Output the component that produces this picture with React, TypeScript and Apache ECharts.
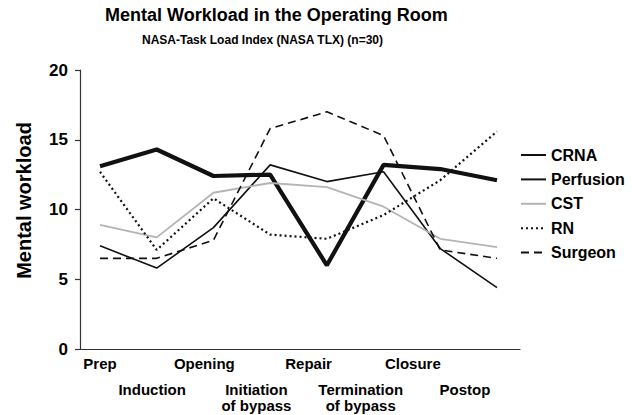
import React, { useEffect, useRef } from "react";
import * as echarts from "echarts";

const categories = ["Prep", "Induction", "Opening", "Initiation\nof bypass", "Repair", "Termination\nof bypass", "Closure", "Postop"];
const crna = [13.1, 14.3, 12.4, 12.5, 6.0, 13.2, 12.9, 12.1];
const perfusion = [7.4, 5.8, 8.7, 13.2, 12.0, 12.7, 7.2, 4.4];
const cst = [8.9, 8.0, 11.2, 11.9, 11.6, 10.2, 7.9, 7.3];
const rn = [12.7, 7.1, 10.8, 8.2, 7.9, 9.6, 12.1, 15.6];
const surgeon = [6.5, 6.5, 7.8, 15.8, 17.0, 15.3, 7.1, 6.5];

const FONT = "'Liberation Sans', Arial, sans-serif";

export default function App() {
  const ref = useRef<HTMLDivElement>(null);
  useEffect(() => {
    const chart = echarts.init(ref.current!, null, { renderer: "svg" });
    const top = 70;
    const height = 279;
    const hiddenAxis = {
      axisLine: { show: false },
      axisTick: { show: false },
      axisLabel: { show: false },
      splitLine: { show: false },
    };
    const mk = (name: string, data: number[], lineStyle: any) => ({
      name,
      type: "line",
      xAxisIndex: 1,
      yAxisIndex: 1,
      data,
      symbol: "none",
      showSymbol: false,
      lineStyle,
      itemStyle: { color: lineStyle.color, opacity: 0 },
    });
    chart.setOption({
      animation: false,
      backgroundColor: "#fff",
      textStyle: { fontFamily: FONT },
      title: [
        {
          text: "Mental Workload in the Operating Room",
          left: 100,
          top: 1,
          textStyle: { fontFamily: FONT, fontSize: 18, fontWeight: "bold", color: "#000" },
        },
        {
          text: "NASA-Task Load Index (NASA TLX) (n=30)",
          left: 137,
          top: 29,
          textStyle: { fontFamily: FONT, fontSize: 12, fontWeight: "bold", color: "#000" },
        },
      ],
      legend: {
        orient: "vertical",
        left: 515,
        top: 141,
        itemWidth: 25,
        itemHeight: 14,
        itemGap: 6.4,
        itemStyle: { opacity: 0 },
        data: ["CRNA", "Perfusion", "CST", "RN", "Surgeon"],
        textStyle: { fontFamily: FONT, fontSize: 16, fontWeight: "bold", color: "#000", lineHeight: 18 },
      },
      grid: [
        { left: 80, width: 440, top, height },
        { left: 100, width: 397, top, height },
        { left: 100, width: 365, top, height },
      ],
      xAxis: [
        {
          gridIndex: 0,
          type: "value",
          min: 0,
          max: 1,
          axisLine: { show: true, lineStyle: { color: "#333", width: 1.2 } },
          axisTick: { show: false },
          axisLabel: { show: false },
          splitLine: { show: false },
        },
        { gridIndex: 1, type: "category", boundaryGap: false, data: categories, ...hiddenAxis },
        {
          gridIndex: 2,
          type: "category",
          boundaryGap: false,
          data: categories,
          axisLine: { show: false },
          axisTick: { show: false },
          splitLine: { show: false },
          axisLabel: {
            show: true,
            interval: 0,
            margin: 6,
            verticalAlign: "top",
            formatter: (v: string, i: number) => {
              const lines = v.split("\n").map((l) => `{t|${l}}`).join("\n");
              return i % 2 === 1 ? `{s| }\n${lines}` : lines;
            },
            rich: {
              t: { fontFamily: FONT, fontSize: 15, fontWeight: "bold", color: "#000", lineHeight: 16 },
              s: { fontSize: 10, lineHeight: 26 },
            },
          },
        },
      ],
      yAxis: [
        {
          gridIndex: 0,
          type: "value",
          min: 0,
          max: 20,
          interval: 5,
          name: "Mental workload",
          nameLocation: "middle",
          nameGap: 46,
          nameTextStyle: { fontFamily: FONT, fontSize: 20, fontWeight: "bold", color: "#000", padding: [0, 0, 0, 18] },
          axisLine: { show: true, lineStyle: { color: "#333", width: 1.2 } },
          axisTick: { show: true, inside: false, length: 5, lineStyle: { color: "#333", width: 1.2 } },
          axisLabel: { fontFamily: FONT, fontSize: 17, fontWeight: "bold", color: "#000", margin: 12 },
          splitLine: { show: false },
        },
        { gridIndex: 1, type: "value", min: 0, max: 20, ...hiddenAxis },
        { gridIndex: 2, type: "value", min: 0, max: 20, ...hiddenAxis },
      ],
      series: [
        mk("CRNA", crna, { color: "#111", width: 4.2, type: "solid" }),
        mk("Perfusion", perfusion, { color: "#111", width: 1.6, type: "solid" }),
        mk("CST", cst, { color: "#b4b4b4", width: 1.8, type: "solid" }),
        mk("RN", rn, { color: "#111", width: 2.2, type: [2, 3] }),
        mk("Surgeon", surgeon, { color: "#111", width: 1.6, type: [8, 5] }),
      ],
    });
    return () => chart.dispose();
  }, []);
  return <div ref={ref} style={{ position: "fixed", left: 0, top: 0, width: 632, height: 415 }} />;
}
